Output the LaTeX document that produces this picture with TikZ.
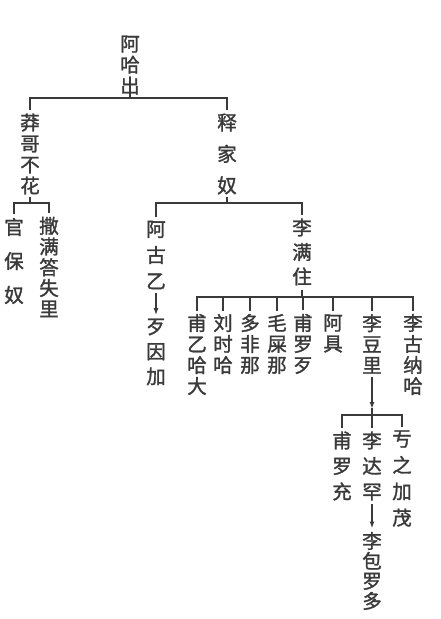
\documentclass[tikz,border=0pt]{standalone}
\usepackage{fontspec}
\newfontfamily\cjk[RawFeature={embolden=1.5}]{Noto Sans CJK SC}
\usetikzlibrary{arrows.meta,calc}
\definecolor{ink}{HTML}{3A3A3A}
\begin{document}
\begin{tikzpicture}[x=1pt,y=-1pt,
  vn/.style={font=\cjk\fontsize{19.5}{#1}\selectfont, align=center, inner sep=0pt, outer sep=3.5pt, text=ink},
  ln/.style={draw=ink, line width=1.5pt},
  arr/.style={ln, -{Latex[length=7pt,width=5pt]}}]
\useasboundingbox[fill=white] (0,0) rectangle (440,619);
% generation 1
\node[vn=21] (ahc) at (130,65) {阿\\哈\\出};
\coordinate (b1) at (0,98);
% generation 2
\node[vn=21] (mgbh) at (30,154) {莽\\哥\\不\\花};
\node[vn=31.5] (sjn) at (227,154) {释\\家\\奴};
\coordinate (b2) at (0,203);
% generation 3
\node[vn=34] (gbn) at (14,261) {官\\保\\奴};
\node[vn=20.75] (smd) at (49,267) {撒\\满\\答\\失\\里};
\node[vn=26] (agy) at (156,255) {阿\\古\\乙};
\node[vn=25] (dyj) at (156,352) {歹\\因\\加};
\node[vn=24.5] (lmz) at (302,252) {李\\满\\住};
\coordinate (b3) at (0,297);
% children of 李满住
\node[vn=21] (c1) at (197,354.5) {甫\\乙\\哈\\大};
\node[vn=21] (c2) at (223,344) {刘\\时\\哈};
\node[vn=21] (c3) at (250,344) {多\\非\\那};
\node[vn=21] (c4) at (277,344) {毛\\屎\\那};
\node[vn=21] (c5) at (303,344) {甫\\罗\\歹};
\node[vn=21] (c6) at (333,333.5) {阿\\具};
\node[vn=21] (ldl) at (372,344) {李\\豆\\里};
\node[vn=21] (c8) at (413,354.5) {李\\古\\纳\\哈};
\coordinate (b4) at (0,415);
% children of 李豆里
\node[vn=25.5] (plc) at (342,466) {甫\\罗\\充};
\node[vn=25.5] (ldh) at (372,466) {李\\达\\罕};
\node[vn=26.3] (kzj) at (402,478.5) {亐\\之\\加\\茂};
\node[vn=20] (lbd) at (372,571) {李\\包\\罗\\多};
% connectors
\draw[ln] (ahc |- b1) -- ++(0,-6);
\draw[ln] (mgbh.north) -- (mgbh |- b1) -- (sjn |- b1) -- (sjn.north);
\draw[ln] (mgbh |- b2) -- ++(0,-6);
\draw[ln] (gbn.north) -- (gbn |- b2) -- (smd |- b2) -- (smd.north);
\draw[ln] (sjn |- b2) -- ++(0,-6);
\draw[ln] (agy.north) -- (agy |- b2) -- (lmz |- b2) -- (lmz.north);
\draw[arr] (agy.south) -- (dyj.north);
\draw[ln] (lmz |- b3) -- ++(0,-7);
\draw[ln] (c1.north) -- (c1 |- b3) -- (c8 |- b3) -- (c8.north);
\foreach \c in {c2,c3,c4,c5,c6,ldl} \draw[ln] (\c |- b3) -- (\c.north);
\draw[arr] (ldl.south) -- ($(ldl |- b4)+(0,-6)$);
\draw[ln] ($(ldl |- b4)+(0,-7)$) -- (ldl |- b4);
\draw[ln] (plc.north) -- (plc |- b4) -- (kzj |- b4) -- (kzj.north);
\draw[ln] (ldh |- b4) -- (ldh.north);
\draw[arr] (ldh.south) -- (lbd.north);
\end{tikzpicture}
\end{document}
